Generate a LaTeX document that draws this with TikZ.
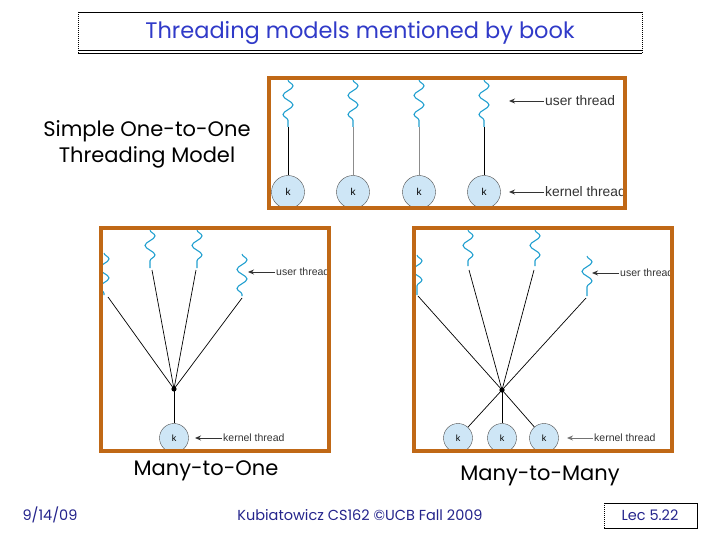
\documentclass[tikz,border=0pt]{standalone}
\usepackage{fontspec}
\setmainfont{Poppins}
\newfontfamily\helv{Liberation Sans}
\usepackage{xcolor}
\usetikzlibrary{arrows.meta,positioning,decorations.pathmorphing}
\definecolor{panelorange}{RGB}{192,104,22}
\definecolor{titleblue}{RGB}{48,58,200}
\definecolor{footblue}{RGB}{36,36,140}
\definecolor{wavecyan}{RGB}{34,160,208}
\definecolor{kfill}{RGB}{206,230,246}

\begin{document}
\begin{tikzpicture}[x=1pt, y=-1pt,
  panel/.style={draw=panelorange, line width=4pt, inner sep=0pt},
  kern/.style={circle, draw=black!70, fill=kfill, minimum size=33pt, inner sep=0pt, font=\helv\fontsize{10}{10}\selectfont},
  kernsm/.style={kern, minimum size=29pt, font=\helv\fontsize{9}{9}\selectfont},
  uwave/.style={wavecyan, line width=1.1pt, decorate, decoration={snake, segment length=19pt, amplitude=5pt}},
  tie/.style={black, line width=0.7pt},
  pointer/.style={-{Stealth[length=6pt,width=5pt]}, line width=0.9pt, black!80},
  tag/.style={anchor=west, inner sep=1pt, text=black!80, font=\helv\fontsize{13.8}{13.8}\selectfont},
  tagsm/.style={tag, font=\helv\fontsize{10.5}{10.5}\selectfont},
  caption/.style={align=center, font=\fontsize{21}{26}\selectfont},
  foot/.style={text=footblue, font=\fontsize{14.5}{14.5}\selectfont}
]
  \useasboundingbox (0,0) rectangle (720,540);

  % title bar
  \node[text=titleblue, font=\fontsize{22.5}{22.5}\selectfont] (title) at (360,33) {Threading models mentioned by book};
  \draw[line width=0.6pt] (78,12) -- (642,12);
  \draw[densely dotted, line width=1pt] (78,12) -- (78,53) (642,12) -- (642,53);
  \draw[line width=0.7pt] (78,50) -- (642,50);
  \draw[line width=1.8pt] (78,53.5) -- (642,53.5);

  % one-to-one
  \node[caption] (cap1) at (147,144) {Simple One-to-One\\Threading Model};
  \begin{scope}
    \clip (270,79) rectangle (624,207);
    \foreach \i/\x in {1/288,2/353,3/419,4/484} {
      \node[kern] (k\i) at (\x,192) {k};
      \draw[uwave] (\x,80) -- (\x,127) coordinate (u\i);
    }
    \foreach \i in {1,4} \draw[tie] (u\i) -- (k\i);
    \foreach \i in {2,3} \draw[tie, black!45] (u\i) -- (k\i);
    \node[tag] (ulab) at (544,101) {user thread};
    \node[tag] (klab) at (544,192) {kernel thread};
    \coordinate (uend) at (509,101);
    \coordinate (kend) at (509,192);
    \draw[pointer] (ulab) -- (uend);
    \draw[pointer] (klab) -- (kend);
  \end{scope}
  \node[panel, minimum width=356pt, minimum height=130pt] (p1) at (447,143) {};

  % many-to-one
  \begin{scope}
    \clip (102,229) rectangle (328,450);
    \draw[uwave] (104,253) -- (104,295);
    \draw[uwave] (150,230) -- (150,268);
    \draw[uwave] (197,230) -- (197,268);
    \draw[uwave] (242,254) -- (242,296);
    \coordinate (a1) at (108,297);
    \coordinate (a2) at (152,270);
    \coordinate (a3) at (196,270);
    \coordinate (a4) at (242,298);
    \coordinate (hub1) at (174,389);
    \node[kernsm] (ka) at (174,438) {k};
    \foreach \i in {1,...,4} \draw[tie] (a\i) -- (hub1);
    \draw[tie] (hub1) -- (ka);
    \fill (hub1) circle (2.6pt);
    \node[tagsm] (ulab2) at (275,272) {user thread};
    \node[tagsm] (klab2) at (222,438) {kernel thread};
    \coordinate (uend2) at (248,272);
    \coordinate (kend2) at (195,438);
    \draw[pointer] (ulab2) -- (uend2);
    \draw[pointer] (klab2) -- (kend2);
  \end{scope}
  \node[panel, minimum width=228pt, minimum height=223pt] (p2) at (215,339.5) {};
  \node[caption] (cap2) at (206,471) {Many-to-One};

  % many-to-many
  \begin{scope}
    \clip (415,229) rectangle (671,450);
    \draw[uwave] (417,255) -- (417,295);
    \draw[uwave] (468,230) -- (468,266);
    \draw[uwave] (535,230) -- (535,266);
    \draw[uwave] (587,256) -- (587,296);
    \coordinate (b1) at (418,296);
    \coordinate (b2) at (469,270);
    \coordinate (b3) at (534,270);
    \coordinate (b4) at (586,298);
    \coordinate (hub2) at (502,390);
    \node[kernsm] (kb1) at (458,438) {k};
    \node[kernsm] (kb2) at (502,438) {k};
    \node[kernsm] (kb3) at (544,438) {k};
    \foreach \i in {1,...,4} \draw[tie] (b\i) -- (hub2);
    \foreach \j in {kb1,kb2,kb3} \draw[tie] (hub2) -- (\j);
    \fill (hub2) circle (2.6pt);
    \node[tagsm] (ulab3) at (619,273) {user thread};
    \node[tagsm] (klab3) at (593,438) {kernel thread};
    \coordinate (uend3) at (592,273);
    \coordinate (kend3) at (567,438);
    \draw[pointer] (ulab3) -- (uend3);
    \draw[pointer, black!55] (klab3) -- (kend3);
  \end{scope}
  \node[panel, minimum width=258pt, minimum height=223pt] (p3) at (543,339.5) {};
  \node[caption] (cap3) at (540,476) {Many-to-Many};

  % footer
  \node[foot] (date) at (50,515) {9/14/09};
  \node[foot] (credit) at (360,515) {Kubiatowicz CS162 ©UCB Fall 2009};
  \node[foot] (lec) at (650,515) {Lec 5.22};
  \draw[line width=0.6pt] (604,503) -- (697,503) -- (697,528) -- (604,528);
  \draw[densely dotted, line width=1pt] (604,503) -- (604,528);
\end{tikzpicture}
\end{document}
